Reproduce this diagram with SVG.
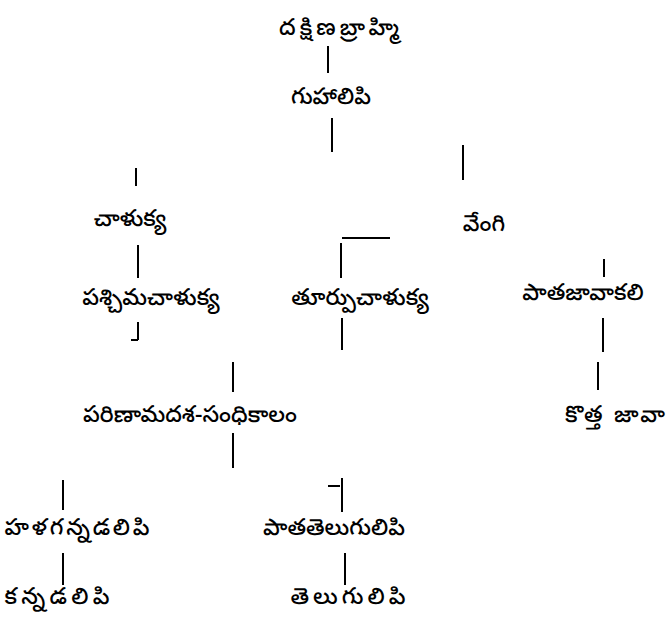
<svg xmlns="http://www.w3.org/2000/svg" width="667" height="617" viewBox="0 0 667 617">
<style>
text{font-family:"Noto Sans Telugu","Noto Sans",sans-serif;font-size:23px;font-weight:500;fill:#000;text-anchor:middle}
.c line{stroke:#000;stroke-width:2}
</style>
<rect width="667" height="617" fill="#fff"/>
<g class="c" id="connectors">
<line x1="328" y1="46" x2="328" y2="73"/>
<line x1="332" y1="118" x2="332" y2="152"/>
<line x1="136" y1="168" x2="136" y2="186"/>
<line x1="463" y1="145" x2="463" y2="180"/>
<line x1="138" y1="245" x2="138" y2="278"/>
<line x1="342" y1="238" x2="390" y2="238"/>
<line x1="341" y1="243" x2="341" y2="278"/>
<line x1="604" y1="259" x2="604" y2="277"/>
<line x1="138" y1="322" x2="138" y2="340"/>
<line x1="131" y1="340" x2="138" y2="340"/>
<line x1="342" y1="318" x2="342" y2="350"/>
<line x1="603" y1="318" x2="603" y2="352"/>
<line x1="598" y1="362" x2="598" y2="390"/>
<line x1="233" y1="362" x2="233" y2="392"/>
<line x1="233" y1="433" x2="233" y2="468"/>
<line x1="63" y1="480" x2="63" y2="510"/>
<line x1="328" y1="486" x2="340" y2="486"/>
<line x1="342" y1="478" x2="342" y2="512"/>
<line x1="63" y1="553" x2="63" y2="585"/>
<line x1="345" y1="553" x2="345" y2="585"/>
</g>
<g id="n1"><text x="339" y="35" textLength="120" lengthAdjust="spacing">దక్షిణబ్రాహ్మి</text></g>
<g id="n2"><text x="331" y="104">గుహాలిపి</text></g>
<g id="n3"><text x="130" y="226">చాళుక్య</text></g>
<g id="n4"><text x="484" y="231">వేంగి</text></g>
<g id="n5"><text x="151" y="305">పశ్చిమచాళుక్య</text></g>
<g id="n6"><text x="360" y="305">తూర్పుచాళుక్య</text></g>
<g id="n7"><text x="583" y="300">పాతజావాకలి</text></g>
<g id="n8"><text x="615" y="422" textLength="100" lengthAdjust="spacing">కొత్త జావా</text></g>
<g id="n9"><text x="190" y="422" textLength="214" lengthAdjust="spacing">పరిణామదశ-సంధికాలం</text></g>
<g id="n10"><text x="77" y="535" textLength="145" lengthAdjust="spacing">హళగన్నడలిపి</text></g>
<g id="n11"><text x="334" y="535" textLength="142" lengthAdjust="spacing">పాతతెలుగులిపి</text></g>
<g id="n12"><text x="57" y="604" textLength="105" lengthAdjust="spacing">కన్నడలిపి</text></g>
<g id="n13"><text x="348" y="604" textLength="115" lengthAdjust="spacing">తెలుగులిపి</text></g>
</svg>
